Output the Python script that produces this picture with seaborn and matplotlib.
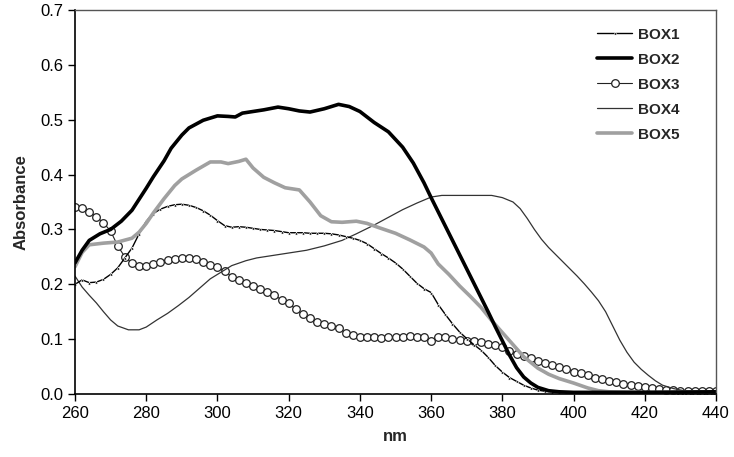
import numpy as np
import pandas as pd
import matplotlib
matplotlib.use("Agg")
import matplotlib.pyplot as plt
import seaborn as sns

# ---------------- data ----------------
nm_grid = list(range(260, 441, 2))

box1 = [0.200, 0.208, 0.203, 0.204, 0.209, 0.218, 0.230, 0.248, 0.266, 0.292,
        0.315, 0.329, 0.337, 0.342, 0.345, 0.346, 0.344, 0.340, 0.334, 0.326,
        0.316, 0.307, 0.304, 0.305, 0.304, 0.302, 0.300, 0.299, 0.298, 0.296,
        0.294, 0.294, 0.294, 0.293, 0.293, 0.293, 0.292, 0.290, 0.287, 0.284,
        0.280, 0.274, 0.265, 0.256, 0.248, 0.239, 0.228, 0.215, 0.202, 0.192,
        0.185, 0.163, 0.145, 0.128, 0.113, 0.101, 0.090, 0.080, 0.067, 0.052,
        0.040, 0.030, 0.023, 0.016, 0.011, 0.007, 0.005, 0.004, 0.003, 0.003,
        0.003, 0.003, 0.003, 0.003, 0.003, 0.003, 0.003, 0.003, 0.003, 0.003,
        0.003, 0.003, 0.003, 0.004, 0.004, 0.004, 0.004, 0.004, 0.005, 0.005,
        0.005]

box3 = [0.341, 0.339, 0.332, 0.323, 0.312, 0.297, 0.270, 0.250, 0.238, 0.233,
        0.233, 0.237, 0.241, 0.244, 0.246, 0.248, 0.248, 0.246, 0.241, 0.236,
        0.231, 0.224, 0.214, 0.208, 0.202, 0.197, 0.191, 0.186, 0.180, 0.172,
        0.165, 0.155, 0.145, 0.138, 0.132, 0.128, 0.124, 0.120, 0.112, 0.107,
        0.104, 0.103, 0.104, 0.102, 0.104, 0.104, 0.103, 0.105, 0.104, 0.103,
        0.097, 0.104, 0.103, 0.101, 0.099, 0.097, 0.096, 0.094, 0.092, 0.089,
        0.085, 0.078, 0.073, 0.070, 0.066, 0.061, 0.057, 0.053, 0.049, 0.045,
        0.041, 0.038, 0.034, 0.030, 0.027, 0.024, 0.021, 0.019, 0.017, 0.015,
        0.013, 0.011, 0.009, 0.008, 0.007, 0.006, 0.005, 0.005, 0.005, 0.005,
        0.006]

box2_nm = [260, 262, 264, 267, 270, 273, 276, 278, 280, 282, 285, 287, 290, 292,
           296, 300, 303, 305, 307, 310, 313, 317, 320, 323, 326, 330, 334, 337,
           340, 344, 348, 352, 355, 358, 360, 362, 364, 366, 368, 370, 372, 374,
           376, 378, 380, 382, 384, 386, 388, 390, 393, 396, 400, 420, 440]
box2 = [0.239, 0.262, 0.280, 0.292, 0.300, 0.315, 0.335, 0.355, 0.375, 0.396,
        0.425, 0.448, 0.472, 0.485, 0.499, 0.507, 0.506, 0.505, 0.512, 0.515,
        0.518, 0.523, 0.520, 0.516, 0.514, 0.520, 0.528, 0.524, 0.515, 0.495,
        0.478, 0.450, 0.421, 0.385, 0.358, 0.332, 0.306, 0.280, 0.254, 0.228,
        0.202, 0.176, 0.150, 0.123, 0.097, 0.071, 0.048, 0.031, 0.020, 0.012,
        0.006, 0.004, 0.003, 0.003, 0.004]

box4_nm = [260, 262, 264, 266, 268, 270, 272, 275, 278, 280, 283, 286, 289, 292,
           295, 298, 301, 304, 308, 311, 315, 320, 325, 330, 335, 339, 344, 348,
           352, 356, 360, 363, 370, 377, 380, 383, 385, 387, 389, 391, 393, 395,
           397, 399, 401, 403, 405, 407, 409, 411, 413, 415, 417, 419, 421, 423,
           425, 428, 431, 435, 440]
box4 = [0.215, 0.195, 0.180, 0.166, 0.150, 0.135, 0.124, 0.117, 0.117, 0.122,
        0.135, 0.147, 0.161, 0.176, 0.193, 0.210, 0.222, 0.234, 0.243, 0.248,
        0.252, 0.257, 0.262, 0.270, 0.280, 0.292, 0.308, 0.322, 0.336, 0.348,
        0.359, 0.362, 0.362, 0.362, 0.358, 0.350, 0.338, 0.320, 0.300, 0.282,
        0.267, 0.254, 0.241, 0.228, 0.215, 0.201, 0.186, 0.170, 0.150, 0.124,
        0.098, 0.076, 0.058, 0.045, 0.034, 0.024, 0.016, 0.010, 0.006, 0.005,
        0.005]

box5_nm = [260, 262, 264, 268, 272, 276, 278, 280, 282, 285, 288, 290, 294, 298,
           301, 303, 306, 308, 310, 313, 316, 319, 323, 326, 329, 332, 335, 339,
           342, 345, 350, 354, 358, 360, 362, 365, 368, 371, 374, 377, 380, 383,
           386, 390, 393, 396, 400, 404, 407, 410, 420, 440]
box5 = [0.232, 0.258, 0.272, 0.275, 0.277, 0.284, 0.295, 0.311, 0.330, 0.356,
        0.380, 0.392, 0.408, 0.423, 0.423, 0.420, 0.424, 0.428, 0.412, 0.395,
        0.385, 0.376, 0.372, 0.350, 0.325, 0.314, 0.313, 0.315, 0.311, 0.304,
        0.293, 0.281, 0.268, 0.257, 0.237, 0.218, 0.197, 0.178, 0.158, 0.134,
        0.112, 0.090, 0.068, 0.047, 0.036, 0.028, 0.020, 0.011, 0.006, 0.004,
        0.003, 0.004]

series_names = ["BOX1", "BOX2", "BOX3", "BOX4", "BOX5"]
x_ticks = [260, 280, 300, 320, 340, 360, 380, 400, 420, 440]
y_ticks = [0.0, 0.1, 0.2, 0.3, 0.4, 0.5, 0.6, 0.7]

# ---------------- styling ----------------
sns.set_style("ticks")
plt.rcParams["font.family"] = ["Liberation Sans", "DejaVu Sans"]

fig = plt.figure(figsize=(7.34, 4.57), dpi=100)
ax = fig.add_axes([75 / 734, 63 / 457, (716 - 75) / 734, (394 - 10) / 457])

styles = {
    "BOX1": dict(color="black", lw=1.0, marker="^", markersize=2.2,
                 markerfacecolor="black", markeredgewidth=0.4),
    "BOX2": dict(color="black", lw=2.6),
    "BOX3": dict(color="#222222", lw=0.8, marker="o", markersize=5.5,
                 markerfacecolor="white", markeredgecolor="#222222",
                 markeredgewidth=0.9),
    "BOX4": dict(color="#333333", lw=0.9),
    "BOX5": dict(color="#a0a0a0", lw=2.6),
}

data = {
    "BOX1": (nm_grid, box1),
    "BOX2": (box2_nm, box2),
    "BOX3": (nm_grid, box3),
    "BOX4": (box4_nm, box4),
    "BOX5": (box5_nm, box5),
}

draw_order = ["BOX3", "BOX4", "BOX1", "BOX5", "BOX2"]
handles = {}
for name in draw_order:
    xs, ys = data[name]
    sns.lineplot(x=xs, y=ys, ax=ax, label=name, sort=False, **styles[name])
for line in ax.get_lines():
    handles[line.get_label()] = line

ax.set_xlim(260, 440)
ax.set_ylim(0, 0.7)
ax.set_xticks(x_ticks)
ax.set_yticks(y_ticks)
ax.set_yticklabels([f"{v:.1f}" for v in y_ticks])
ax.tick_params(axis="both", labelsize=12, length=5, width=1, direction="out",
               colors="black")
ax.set_xlabel("nm", fontsize=12, fontweight="bold", labelpad=6)
ax.set_ylabel("Absorbance", fontsize=12, fontweight="bold", labelpad=8)

for side in ["left", "bottom"]:
    ax.spines[side].set_color("black")
    ax.spines[side].set_linewidth(1.2)
for side in ["top", "right"]:
    ax.spines[side].set_visible(True)
    ax.spines[side].set_color("#555555")
    ax.spines[side].set_linewidth(1.0)

leg = ax.legend([handles[n] for n in series_names], series_names,
                loc="upper right", bbox_to_anchor=(0.965, 0.99), frameon=False,
                prop={"weight": "bold", "size": 11}, handlelength=2.3,
                labelspacing=0.72, handletextpad=0.4)

fig.savefig("out.png", dpi=100)
